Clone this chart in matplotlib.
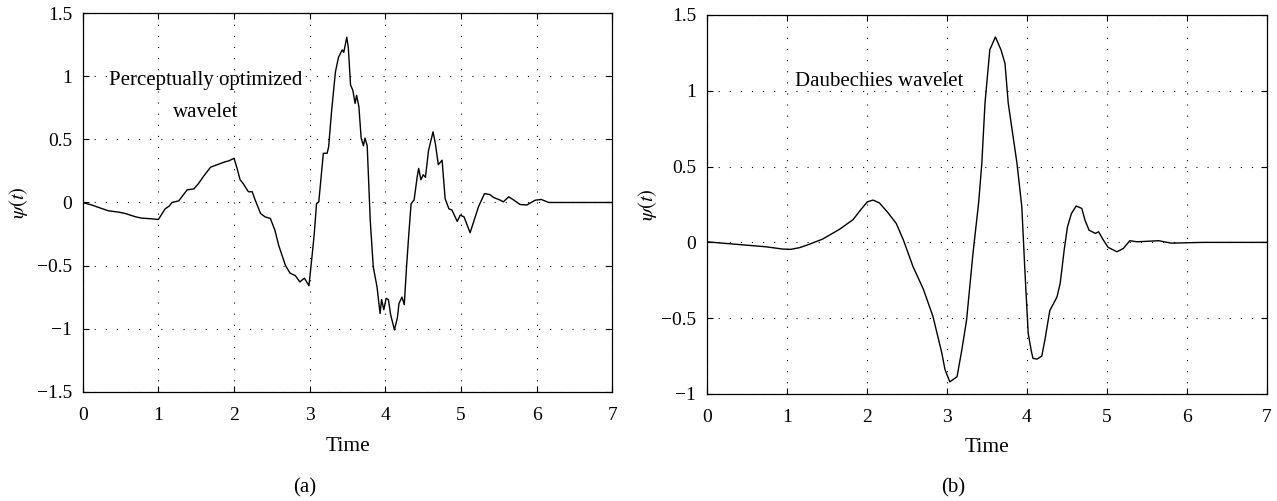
import matplotlib
matplotlib.use('Agg')
import matplotlib.pyplot as plt
import numpy as np

# perceptually optimized wavelet (panel a)
t_a = [0.00, 0.12, 0.26, 0.34, 0.48, 0.56, 0.70, 0.78, 0.92, 1.00,
       1.05, 1.09, 1.14, 1.18, 1.27, 1.31, 1.38, 1.47, 1.53, 1.60,
       1.69, 1.78, 1.87, 1.93, 2.00, 2.04, 2.08, 2.12, 2.19, 2.24,
       2.28, 2.35, 2.41, 2.48, 2.54, 2.59, 2.68, 2.74, 2.81, 2.87,
       2.93, 2.99, 3.03, 3.06, 3.09, 3.12, 3.16, 3.18, 3.23, 3.25,
       3.29, 3.34, 3.38, 3.43, 3.45, 3.49, 3.51, 3.54, 3.57, 3.60,
       3.62, 3.65, 3.68, 3.71, 3.73, 3.76, 3.80, 3.84, 3.89, 3.93,
       3.95, 3.98, 4.01, 4.04, 4.07, 4.12, 4.16, 4.18, 4.22, 4.25,
       4.28, 4.31, 4.34, 4.38, 4.42, 4.44, 4.47, 4.50, 4.53, 4.57,
       4.63, 4.66, 4.70, 4.75, 4.79, 4.84, 4.88, 4.95, 4.99, 5.04,
       5.12, 5.19, 5.23, 5.31, 5.38, 5.43, 5.52, 5.56, 5.63, 5.70,
       5.78, 5.87, 5.98, 6.06, 6.16, 6.50, 7.00]
psi_a = [0.00, -0.02, -0.05, -0.066, -0.077, -0.087, -0.114, -0.124, -0.13, -0.135,
         -0.087, -0.05, -0.03, 0.00, 0.013, 0.045, 0.10, 0.108, 0.15, 0.21,
         0.28, 0.30, 0.32, 0.33, 0.35, 0.27, 0.18, 0.15, 0.085, 0.085,
         0.018, -0.087, -0.114, -0.127, -0.22, -0.34, -0.50, -0.56, -0.58, -0.63,
         -0.60, -0.66, -0.43, -0.25, -0.01, 0.005, 0.26, 0.39, 0.39, 0.44,
         0.73, 1.035, 1.15, 1.21, 1.19, 1.31, 1.23, 0.93, 0.89, 0.785,
         0.85, 0.76, 0.51, 0.45, 0.51, 0.45, -0.14, -0.51, -0.67, -0.88,
         -0.77, -0.85, -0.76, -0.77, -0.89, -1.01, -0.91, -0.80, -0.75, -0.81,
         -0.51, -0.25, -0.01, 0.02, 0.20, 0.27, 0.18, 0.22, 0.20, 0.41,
         0.56, 0.47, 0.30, 0.335, 0.03, -0.05, -0.06, -0.15, -0.10, -0.114,
         -0.24, -0.11, -0.035, 0.07, 0.063, 0.04, 0.018, 0.005, 0.045, 0.018,
         -0.016, -0.02, 0.018, 0.024, 0.00, 0.00, 0.00]

# Daubechies wavelet (panel b)
t_b = [0.00, 0.24, 0.49, 0.74, 0.95, 1.05, 1.16, 1.28, 1.45, 1.66,
       1.83, 1.93, 2.01, 2.08, 2.16, 2.26, 2.37, 2.46, 2.58, 2.71,
       2.83, 2.94, 2.98, 3.04, 3.13, 3.19, 3.25, 3.33, 3.40, 3.44,
       3.48, 3.54, 3.61, 3.68, 3.73, 3.77, 3.88, 3.94, 3.98, 4.02,
       4.06, 4.08, 4.13, 4.19, 4.23, 4.29, 4.38, 4.42, 4.47, 4.51,
       4.56, 4.62, 4.69, 4.73, 4.78, 4.86, 4.90, 4.96, 5.02, 5.13,
       5.21, 5.29, 5.38, 5.50, 5.65, 5.81, 6.20, 7.00]
psi_b = [0.004, -0.007, -0.018, -0.029, -0.044, -0.046, -0.035, -0.013, 0.022, 0.086,
         0.15, 0.218, 0.268, 0.279, 0.26, 0.20, 0.125, 0.015, -0.16, -0.31,
         -0.49, -0.73, -0.84, -0.92, -0.886, -0.71, -0.51, -0.07, 0.26, 0.52,
         0.92, 1.27, 1.355, 1.27, 1.18, 0.92, 0.52, 0.235, -0.20, -0.60,
         -0.72, -0.765, -0.77, -0.75, -0.64, -0.45, -0.36, -0.27, -0.05, 0.10,
         0.19, 0.24, 0.224, 0.147, 0.081, 0.059, 0.07, 0.015, -0.033, -0.062,
         -0.04, 0.011, 0.004, 0.007, 0.011, -0.005, 0.0, 0.0]

xticks = [0, 1, 2, 3, 4, 5, 6, 7]
yticks_a = [-1.5, -1, -0.5, 0, 0.5, 1, 1.5]
yticks_b = [-1, -0.5, 0, 0.5, 1, 1.5]


def ticklab(v):
    s = ('%g' % v).replace('-', '\u2212')
    return s


plt.rcParams['font.family'] = ['Liberation Serif', 'DejaVu Serif']
plt.rcParams['mathtext.fontset'] = 'stix'

fig = plt.figure(figsize=(12.77, 5.01), dpi=100)
ax1 = fig.add_axes([0.0648, 0.2182, 0.4147, 0.7553])
ax2 = fig.add_axes([0.5534, 0.2136, 0.4384, 0.7565])

for ax, t, psi, yt, ylim in [(ax1, t_a, psi_a, yticks_a, (-1.5, 1.5)),
                             (ax2, t_b, psi_b, yticks_b, (-1, 1.5))]:
    ax.plot(t, psi, color='black', linewidth=1.0)
    ax.set_xlim(0, 7)
    ax.set_ylim(*ylim)
    ax.set_xticks(xticks)
    ax.set_xticklabels([ticklab(v) for v in xticks])
    ax.set_yticks(yt)
    ax.set_yticklabels([ticklab(v) for v in yt])
    ax.grid(True, color='black', linestyle=(0, (1, 9)), linewidth=0.8)
    ax.tick_params(direction='in', top=True, right=True, length=4, width=0.8,
                   labelsize=14)
    ax.tick_params(axis='x', pad=11)
    ax.tick_params(axis='y', pad=7.5)
    for sp in ax.spines.values():
        sp.set_linewidth(0.9)
    ax.set_xlabel('Time', fontsize=15.5, va='center')
    ax.set_ylabel(r'$\psi(t)$', fontsize=15, va='center')

ax1.xaxis.set_label_coords(0.5, -0.146)
ax2.xaxis.set_label_coords(0.5, -0.14)
ax1.yaxis.set_label_coords(-0.121, 0.5)
ax2.yaxis.set_label_coords(-0.105, 0.5)

ax1.text(1.62, 0.97, 'Perceptually optimized', fontsize=15, ha='center', va='center')
ax1.text(1.62, 0.71, 'wavelet', fontsize=15, ha='center', va='center')
ax2.text(2.16, 1.06, 'Daubechies wavelet', fontsize=15, ha='center', va='center')

fig.text(0.2388, 0.026, '(a)', fontsize=15, ha='center', va='center')
fig.text(0.7463, 0.026, '(b)', fontsize=15, ha='center', va='center')

fig.savefig('out.png', dpi=100)
